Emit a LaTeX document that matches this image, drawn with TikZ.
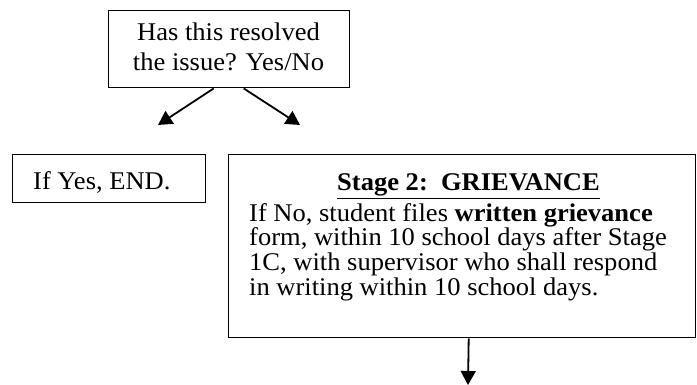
\documentclass[tikz,border=0pt]{standalone}
\usepackage{fontspec}
\setmainfont{Liberation Serif}
\usetikzlibrary{arrows.meta}
\newcommand{\hstretch}[1]{\scalebox{1.04}[1.0]{#1}}
\begin{document}
\begin{tikzpicture}[x=1pt,y=-1pt,
  box/.style={draw, line width=1.4pt, inner sep=0pt, anchor=north west},
  txt/.style={inner sep=0pt, anchor=base west, font=\fontsize{25.5}{24.5}\selectfont},
  ctxt/.style={inner sep=0pt, anchor=base, font=\fontsize{25.5}{24.5}\selectfont},
  arr/.style={line width=1.8pt, -{Triangle[length=14pt,width=15pt]}}]
\useasboundingbox (0,0) rectangle (697,385);
% boxes
\node[box, minimum width=241pt, minimum height=77pt] (q) at (108,10) {};
\node[box, minimum width=193pt, minimum height=48pt] (yes) at (12,154) {};
\node[box, minimum width=467pt, minimum height=183pt] (stage) at (228,154) {};
% texts
\node[ctxt] (q1) at (228.5,40.5) {\hstretch{Has this resolved}};
\node[ctxt] (q2) at (228.5,70.5) {\hstretch{the issue? Yes/No}};
\node[txt] (yt) at (33,190) {\hstretch{If Yes, END.}};
\node[ctxt] (sh) at (468.5,191) {\hstretch{\bfseries\underline{Stage 2:\ \ GRIEVANCE}}};
\node[txt] (s1) at (249,221.5) {\hstretch{If No, student files \textbf{written grievance}}};
\node[txt] (s2) at (249,246) {\hstretch{form, within 10 school days after Stage}};
\node[txt] (s3) at (249,270.5) {\hstretch{1C, with supervisor who shall respond}};
\node[txt] (s4) at (249,295) {\hstretch{in writing within 10 school days.}};
% connectors
\coordinate (lt) at (158,125);
\coordinate (rt) at (300,125);
\coordinate (dt) at (468,385);
\draw[arr] ([xshift=-15.5pt]q.south) -- (lt);
\draw[arr] ([xshift=14.5pt]q.south) -- (rt);
\draw[arr] ([xshift=6.5pt]stage.south) -- (dt);
\end{tikzpicture}
\end{document}
